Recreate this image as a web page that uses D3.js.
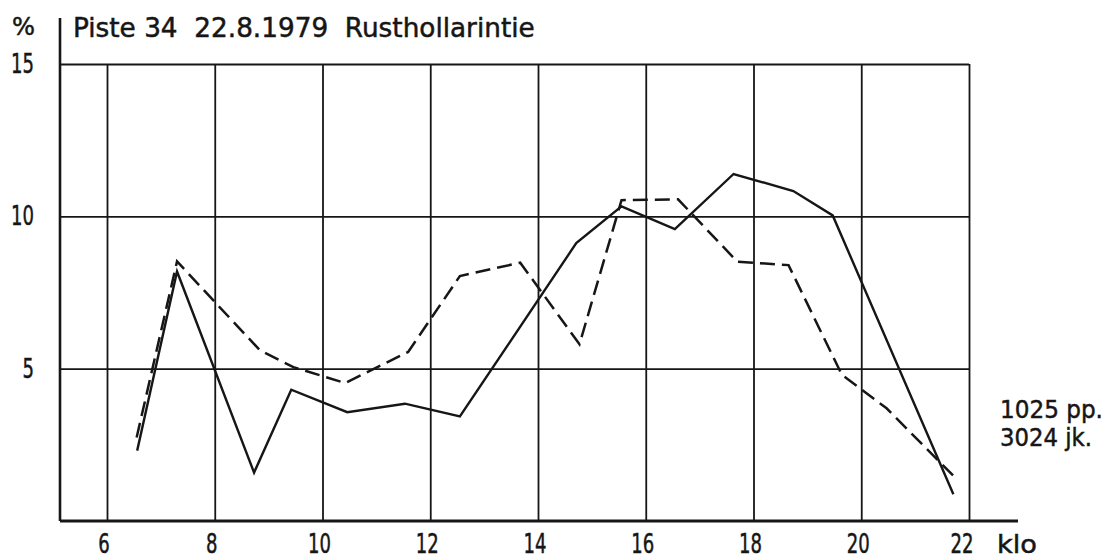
<!DOCTYPE html>
<html><head><meta charset="utf-8">
<script src="https://cdn.jsdelivr.net/npm/d3@7"></script>
<style>body{margin:0;background:#fff}svg{display:block}text{white-space:pre}</style>
</head><body>
<svg id="c" width="1108" height="560"></svg>
<script>
// ---- data ----
const xTickValues = [6, 8, 10, 12, 14, 16, 18, 20, 22];
const yTickValues = [5, 10, 15];
const solidHours  = [6.56, 7.30, 8.73, 9.42, 10.46, 11.53, 12.55, 14.71, 15.55, 16.54, 17.63, 18.74, 19.47, 21.71];
const solidValues = [2.31, 8.19, 1.59, 4.31, 3.57, 3.85, 3.43, 9.12, 10.33, 9.58, 11.39, 10.83, 10.03, 0.88];
const dashedHours  = [6.55, 7.30, 8.84, 9.46, 10.42, 11.59, 12.55, 13.67, 14.77, 15.55, 16.60, 17.70, 18.65, 19.64, 20.47, 21.74];
const dashedValues = [2.74, 8.52, 5.60, 5.05, 4.53, 5.55, 8.04, 8.48, 5.80, 10.53, 10.56, 8.51, 8.40, 4.80, 3.70, 1.43];
const titleText = "Piste 34  22.8.1979  Rusthollarintie";
const noteLines = ["1025 pp.", "3024 jk."];
const yUnit = "%";
const xUnit = "klo";

// ---- drawing ----
const svg = d3.select("#c");
const ink = "#161616";
const font = "DejaVu Sans, sans-serif";
const x = d3.scaleLinear().domain([6, 22]).range([107, 969]);
const y = d3.scaleLinear().domain([0, 15]).range([521, 64]);
const left = 60;

// vertical grid lines
svg.append("g")
  .attr("transform", `translate(0,${y(0)})`)
  .call(d3.axisBottom(x).tickValues(xTickValues).tickSize(-(y(0) - y(15))).tickFormat(""))
  .call(g => {
    g.select(".domain").remove();
    g.selectAll("line").attr("stroke", ink).attr("stroke-width", 1.8);
  });

// horizontal grid lines
svg.append("g")
  .attr("transform", `translate(${x(22)},0)`)
  .call(d3.axisLeft(y).tickValues(yTickValues).tickSize(x(22) - left).tickFormat(""))
  .call(g => {
    g.select(".domain").remove();
    g.selectAll("line").attr("stroke", ink).attr("stroke-width", 1.8);
  });

// frame: left axis and baseline
svg.append("line").attr("x1", left).attr("x2", left).attr("y1", 18).attr("y2", y(0))
  .attr("stroke", ink).attr("stroke-width", 2.6);
svg.append("line").attr("x1", left).attr("x2", 1018).attr("y1", y(0)).attr("y2", y(0))
  .attr("stroke", ink).attr("stroke-width", 3);

// series
const line = d3.line().x(d => x(d[0])).y(d => y(d[1]));
svg.append("path").datum(d3.zip(solidHours, solidValues))
  .attr("d", line).attr("fill", "none").attr("stroke", ink).attr("stroke-width", 2.4);
svg.append("path").datum(d3.zip(dashedHours, dashedValues))
  .attr("d", line).attr("fill", "none").attr("stroke", ink).attr("stroke-width", 2.5)
  .attr("stroke-dasharray", "15,7");

// text helper: scale horizontally so the text spans the given width
function txt(str, x0, y0, anchor, size, width) {
  const t = svg.append("text")
    .attr("text-anchor", anchor)
    .attr("font-family", font)
    .attr("font-size", size)
    .attr("fill", ink)
    .attr("stroke", ink)
    .attr("stroke-width", 0.5)
    .text(str);
  const natural = t.node().getComputedTextLength();
  const sx = width ? width / natural : 1;
  t.attr("transform", `translate(${x0},${y0}) scale(${sx},1)`);
  return t;
}

// y tick labels
yTickValues.forEach(v => txt(String(v), 34, y(v) + 9, "end", 26, String(v).length * 11.5));
txt(yUnit, 12, 35, "start", 24, 23);

// x tick labels
xTickValues.forEach(v => txt(String(v), x(v) - 3 - (v === 22 ? 4 : 0), 553, "middle", 26, String(v).length * 11.5));
txt(xUnit, 997, 553, "start", 25, 40);

// title
txt(titleText, 73, 37, "start", 26, 462);

// notes
txt(noteLines[0], 1000, 418, "start", 25, 103);
txt(noteLines[1], 1000, 446, "start", 25, 92);
</script>
</body></html>
